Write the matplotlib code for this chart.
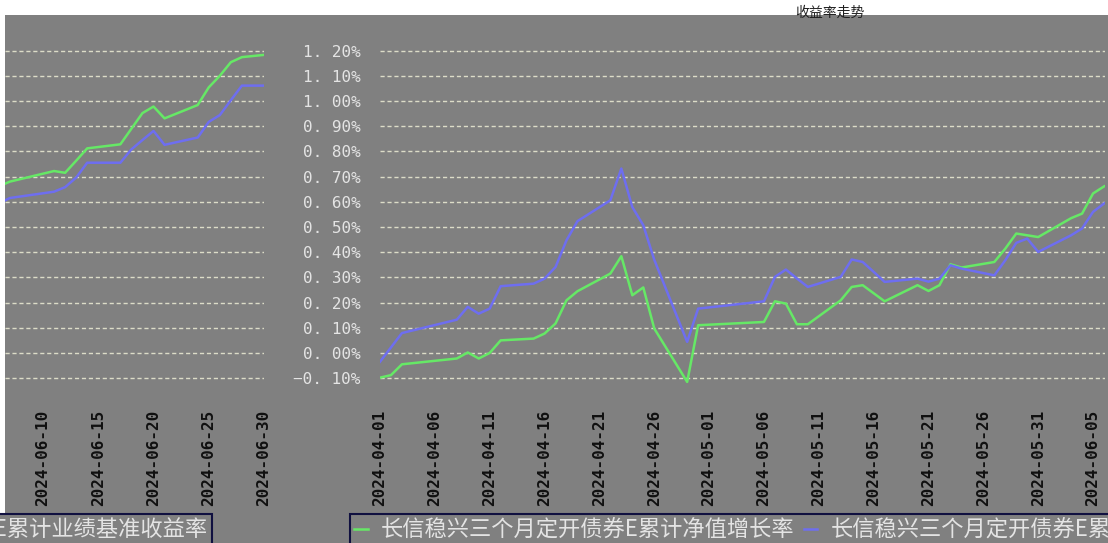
import numpy as np
import pandas as pd
import matplotlib
matplotlib.use('Agg')
import matplotlib.pyplot as plt
import matplotlib.dates as mdates
from matplotlib.patches import Rectangle

# data (percent)
dates = ['2024-04-01', '2024-04-02', '2024-04-03', '2024-04-08', '2024-04-09', '2024-04-10',
         '2024-04-11', '2024-04-12', '2024-04-15', '2024-04-16', '2024-04-17', '2024-04-18',
         '2024-04-19', '2024-04-22', '2024-04-23', '2024-04-24', '2024-04-25', '2024-04-26',
         '2024-04-29', '2024-04-30', '2024-05-06', '2024-05-07', '2024-05-08', '2024-05-09',
         '2024-05-10', '2024-05-13', '2024-05-14', '2024-05-15', '2024-05-16', '2024-05-17',
         '2024-05-20', '2024-05-21', '2024-05-22', '2024-05-23', '2024-05-24', '2024-05-27',
         '2024-05-28', '2024-05-29', '2024-05-30', '2024-05-31', '2024-06-03', '2024-06-04',
         '2024-06-05', '2024-06-06', '2024-06-07', '2024-06-11', '2024-06-12', '2024-06-13',
         '2024-06-14', '2024-06-17', '2024-06-18', '2024-06-19', '2024-06-20', '2024-06-21',
         '2024-06-24', '2024-06-25', '2024-06-26', '2024-06-27', '2024-06-28', '2024-06-30']
nav_growth = [-0.098, -0.088, -0.045, -0.022, 0.002, -0.022,
              0.000, 0.050, 0.057, 0.077, 0.117, 0.209,
              0.245, 0.315, 0.384, 0.229, 0.260, 0.097,
              -0.115, 0.110, 0.123, 0.205, 0.196, 0.114,
              0.114, 0.209, 0.262, 0.269, 0.237, 0.205,
              0.269, 0.246, 0.269, 0.352, 0.339, 0.361,
              0.414, 0.474, 0.467, 0.460, 0.535, 0.553,
              0.633, 0.661, 0.680, 0.722, 0.715, 0.763,
              0.812, 0.828, 0.890, 0.952, 0.978, 0.931,
              0.984, 1.054, 1.100, 1.154, 1.174, 1.183]
benchmark = [-0.035, 0.022, 0.079, 0.132, 0.183, 0.156,
             0.176, 0.265, 0.275, 0.295, 0.341, 0.447,
             0.523, 0.606, 0.732, 0.579, 0.507, 0.370,
             0.044, 0.176, 0.205, 0.302, 0.331, 0.296,
             0.262, 0.302, 0.371, 0.361, 0.322, 0.282,
             0.295, 0.283, 0.295, 0.348, 0.335, 0.308,
             0.368, 0.437, 0.454, 0.401, 0.467, 0.494,
             0.560, 0.593, 0.615, 0.640, 0.658, 0.696,
             0.755, 0.755, 0.808, 0.845, 0.881, 0.826,
             0.855, 0.917, 0.944, 1.003, 1.061, 1.061]

tick_dates = ['2024-04-01', '2024-04-06', '2024-04-11', '2024-04-16', '2024-04-21', '2024-04-26',
              '2024-05-01', '2024-05-06', '2024-05-11', '2024-05-16', '2024-05-21', '2024-05-26',
              '2024-05-31', '2024-06-05', '2024-06-10', '2024-06-15', '2024-06-20', '2024-06-25',
              '2024-06-30']
ytick_values = [-0.10, 0.00, 0.10, 0.20, 0.30, 0.40, 0.50, 0.60, 0.70, 0.80, 0.90, 1.00, 1.10, 1.20]
ytick_labels = ['\u22120. 10%', '0. 00%', '0. 10%', '0. 20%', '0. 30%', '0. 40%', '0. 50%',
                '0. 60%', '0. 70%', '0. 80%', '0. 90%', '1. 00%', '1. 10%', '1. 20%']
series_names = ['长信稳兴三个月定开债券E累计净值增长率', '长信稳兴三个月定开债券E累计业绩基准收益率']
title_text = '收益率走势'

bg = '#808080'
green = '#66e866'
blue = '#6e6ef0'
W, H = 1108, 543

x = pd.to_datetime(dates)
ticks = pd.to_datetime(tick_dates)

fig = plt.figure(figsize=(W / 100, H / 100), dpi=100, facecolor=bg)
fig.patches.append(Rectangle((0, 1 - 15 / H), 1, 15 / H, transform=fig.transFigure,
                             facecolor='white', edgecolor='none', zorder=-5))
fig.patches.append(Rectangle((0, 0), 5 / W, 1, transform=fig.transFigure,
                             facecolor='white', edgecolor='none', zorder=-5))

y0, y1 = 390, 38
ax_bottom = (H - y0) / H
ax_height = (y0 - y1) / H


def setup(ax, xmin, xmax):
    ax.set_facecolor(bg)
    for s in ax.spines.values():
        s.set_visible(False)
    ax.plot(x, nav_growth, color=green, lw=1.8, label=series_names[0])
    ax.plot(x, benchmark, color=blue, lw=1.8, label=series_names[1])
    ax.set_yticks(ytick_values)
    ax.set_xticks(ticks)
    ax.xaxis.set_major_formatter(mdates.DateFormatter('%Y-%m-%d'))
    ax.set_xlim(xmin, xmax)
    ax.set_ylim(-0.147, 1.25)
    ax.tick_params(axis='x', length=0, pad=14, labelsize=11.5, labelcolor='#101010',
                   labelrotation=90)
    ax.tick_params(axis='y', length=0)
    for lab in ax.get_xticklabels():
        lab.set_family('DejaVu Sans Mono')
        lab.set_weight('bold')
    ax.yaxis.grid(True, color='#dcdcc8', linestyle=(0, (3, 2)), linewidth=1)
    ax.set_axisbelow(True)


# main panel: April to early June
ax = fig.add_axes([380 / W, ax_bottom, 725 / W, ax_height])
setup(ax, pd.Timestamp('2024-04-01'), pd.Timestamp('2024-04-01') + pd.Timedelta(days=725 / 10.97))
ax.set_yticklabels(ytick_labels)
ax.tick_params(axis='y', pad=14, labelsize=11.5, labelcolor='#e4e4e4')
for lab in ax.get_yticklabels():
    lab.set_family('DejaVu Sans Mono')

# wrapped part: rest of June
ax2 = fig.add_axes([5 / W, ax_bottom, 259 / W, ax_height])
setup(ax2, pd.Timestamp('2024-06-30') - pd.Timedelta(days=259 / 11.05), pd.Timestamp('2024-06-30'))
ax2.set_yticklabels([])

fig.text(830 / W, 1 - 13 / H, title_text, ha='center', va='center', fontsize=10,
         color='#202020', family=['Noto Sans CJK SC', 'DejaVu Sans'])

handles, labels = ax.get_legend_handles_labels()
leg_kw = dict(ncol=2, frameon=True, facecolor=bg, edgecolor='#101040',
              framealpha=1, fancybox=False, borderpad=0.2, borderaxespad=0,
              handlelength=0.6, handletextpad=0.6, columnspacing=0.4, labelcolor='#e4e4e4',
              prop={'family': ['Noto Sans CJK SC', 'DejaVu Sans'], 'size': 16},
              bbox_transform=fig.transFigure)
leg1 = fig.legend(handles, labels, loc='upper left', bbox_to_anchor=(350 / W, (H - 514) / H), **leg_kw)
leg2 = fig.legend(handles, labels, loc='upper right', bbox_to_anchor=(212 / W, (H - 514) / H), **leg_kw)
for lg in (leg1, leg2):
    lg.get_frame().set_linewidth(1.5)

fig.savefig('out.png', dpi=100, facecolor=bg)
